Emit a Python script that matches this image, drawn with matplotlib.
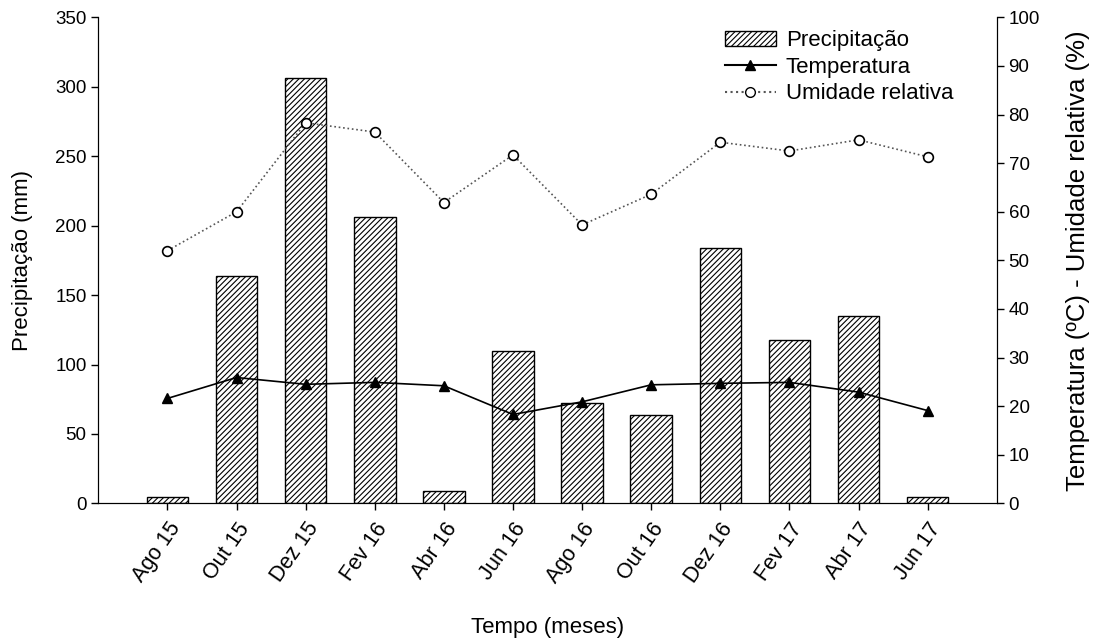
import numpy as np
import matplotlib.pyplot as plt
from matplotlib.patches import Patch
from matplotlib.lines import Line2D

plt.rcParams['font.family'] = ['Liberation Sans', 'DejaVu Sans']
plt.rcParams['hatch.linewidth'] = 0.8

meses = ["Ago 15", "Out 15", "Dez 15", "Fev 16", "Abr 16", "Jun 16",
         "Ago 16", "Out 16", "Dez 16", "Fev 17", "Abr 17", "Jun 17"]
precipitacao = [4.5, 164, 306, 206, 9, 110, 72, 64, 184, 118, 135, 4.5]
temperatura = [21.6, 25.9, 24.5, 24.9, 24.2, 18.3, 20.9, 24.4, 24.7, 24.9, 22.9, 19.1]
umidade = [52.0, 60.0, 78.3, 76.4, 61.9, 71.7, 57.3, 63.6, 74.3, 72.5, 74.8, 71.3]

x = np.arange(len(meses))

fig = plt.figure(figsize=(10.94, 6.44), dpi=100)
ax1 = fig.add_axes([0.0899, 0.2183, 0.8212, 0.7548])

ax1.bar(x, precipitacao, width=0.6, color='white', edgecolor='black',
        linewidth=1.0, hatch='//////')
ax1.set_xlim(-1, 12)
ax1.set_ylim(0, 350)
ax1.set_yticks(np.arange(0, 351, 50))
ax1.set_xticks(x)
ax1.set_xticklabels(meses, rotation=55, ha='right', rotation_mode='anchor')
ax1.set_ylabel("Precipitação (mm)", fontsize=16)
ax1.yaxis.set_label_coords(-0.0727, 0.5)
ax1.set_xlabel("Tempo (meses)", fontsize=16)
ax1.xaxis.set_label_coords(0.4995, -0.234)
ax1.tick_params(direction='out', length=5, labelsize=13.5, width=1)
ax1.tick_params(axis='x', pad=6, labelsize=15.5)
ax1.spines['top'].set_visible(False)

ax2 = ax1.twinx()
ax2.plot(x, temperatura, color='black', linewidth=1.2, marker='^',
         markersize=7, markerfacecolor='black')
ax2.plot(x, umidade, color='#555555', linestyle=':', linewidth=1.2,
         marker='o', markersize=7, markerfacecolor='white',
         markeredgecolor='black', markeredgewidth=1.2)
ax2.set_ylim(0, 100)
ax2.set_yticks(np.arange(0, 101, 10))
ax2.set_ylabel("Temperatura (ºC) - Umidade relativa (%)", fontsize=18.5)
ax2.yaxis.set_label_coords(1.077, 0.5)
ax2.tick_params(direction='out', length=5, labelsize=13.5, width=1)
ax2.spines['top'].set_visible(False)

handles = [
    Patch(facecolor='white', edgecolor='black', hatch='//////', label="Precipitação"),
    Line2D([], [], color='black', marker='^', markersize=7, label="Temperatura"),
    Line2D([], [], color='#555555', linestyle=':', marker='o', markersize=7,
           markerfacecolor='white', markeredgecolor='black', label="Umidade relativa"),
]
ax2.legend(handles=handles, loc='upper left', bbox_to_anchor=(0.644, 0.984),
           bbox_transform=fig.transFigure, frameon=False, fontsize=16,
           handlelength=2.3, labelspacing=0.25, handletextpad=0.45)

plt.savefig("out.png", dpi=100)
plt.close()
